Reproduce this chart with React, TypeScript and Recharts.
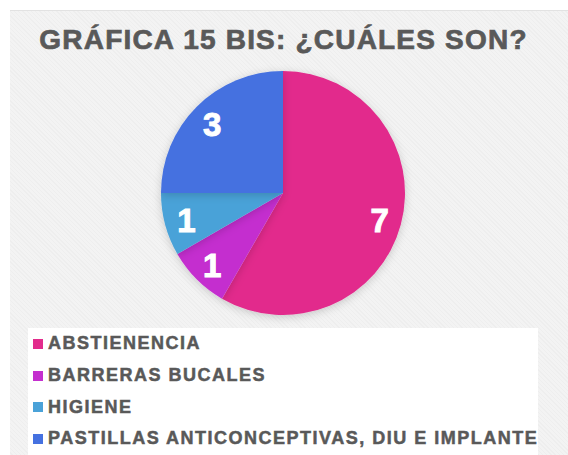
import { PieChart, Pie, Cell, Legend } from "recharts";

const categories = ["ABSTIENENCIA", "BARRERAS BUCALES", "HIGIENE", "PASTILLAS ANTICONCEPTIVAS, DIU E IMPLANTE"];
const values = [7, 1, 1, 3];
const colors = ["#e22c8c", "#c42fcf", "#4aa2d8", "#4571e0"];

const data = categories.map((name, i) => ({ name, value: values[i] }));

const RADIAN = Math.PI / 180;
const FONT = "'Liberation Sans', Arial, sans-serif";

function renderLabel(props: any) {
  const { cx, cy, midAngle, outerRadius, value } = props;
  const r = outerRadius * 0.82;
  const x = cx + r * Math.cos(-midAngle * RADIAN);
  const y = cy + r * Math.sin(-midAngle * RADIAN);
  return (
    <text
      x={x}
      y={y + 2}
      fill="#ffffff"
      stroke="#ffffff"
      strokeWidth={1}
      textAnchor="middle"
      dominantBaseline="central"
      style={{ fontFamily: FONT, fontWeight: 700, fontSize: 33 }}
    >
      {value}
    </text>
  );
}

function renderLegend(props: any) {
  const { payload } = props;
  return (
    <div style={{ background: "#ffffff", width: 510, height: 127, paddingTop: 0, boxSizing: "border-box" }}>
      {payload.map((entry: any, i: number) => (
        <div key={i} style={{ display: "flex", alignItems: "center", height: 31.7, paddingLeft: 5 }}>
          <span style={{ width: 10, height: 10, background: entry.color, display: "inline-block", marginRight: 5, flexShrink: 0 }} />
          <span
            style={{
              fontFamily: FONT,
              fontWeight: 700,
              fontSize: 18,
              letterSpacing: 1.5,
              WebkitTextStroke: "0.5px #595959",
              color: "#595959",
              whiteSpace: "nowrap",
            }}
          >
            {entry.value}
          </span>
        </div>
      ))}
    </div>
  );
}

export default function App() {
  return (
    <div style={{ position: "absolute", left: 0, top: 0, width: 568, height: 455, background: "#ffffff", overflow: "hidden" }}>
      <div
        style={{
          position: "absolute",
          left: 10,
          top: 10,
          width: 558,
          height: 445,
          background: "repeating-linear-gradient(45deg, #f3f3f3 0px, #f3f3f3 2px, #eeeeee 2px, #eeeeee 3px)",
          borderTop: "1px solid #e2e2e2",
        }}
      />
      <div
        style={{
          position: "absolute",
          left: 0,
          top: 24,
          width: 567,
          textAlign: "center",
          fontFamily: FONT,
          fontWeight: 700,
          fontSize: 28,
          letterSpacing: 1.2,
          WebkitTextStroke: "0.7px #595959",
          color: "#595959",
          whiteSpace: "nowrap",
        }}
      >
        GRÁFICA 15 BIS: ¿CUÁLES SON?
      </div>
      <div style={{ position: "absolute", left: 0, top: 0 }}>
        <PieChart width={568} height={455} margin={{ top: 0, right: 0, bottom: 0, left: 0 }}>
          <defs>
            <filter id="pieShadow" x="-20%" y="-20%" width="140%" height="140%">
              <feDropShadow dx="0" dy="2" stdDeviation="4" floodColor="#000000" floodOpacity="0.18" />
            </filter>
          </defs>
          <Pie
            data={data}
            dataKey="value"
            nameKey="name"
            cx={283}
            cy={193}
            outerRadius={122}
            startAngle={90}
            endAngle={-270}
            stroke="none"
            label={renderLabel}
            labelLine={false}
            isAnimationActive={false}
            style={{ filter: "url(#pieShadow)" }}
          >
            {data.map((_, i) => (
              <Cell key={i} fill={colors[i]} />
            ))}
          </Pie>
          <Legend
            content={renderLegend}
            wrapperStyle={{ position: "absolute", left: 28, top: 328, width: 510 }}
          />
        </PieChart>
      </div>
    </div>
  );
}
